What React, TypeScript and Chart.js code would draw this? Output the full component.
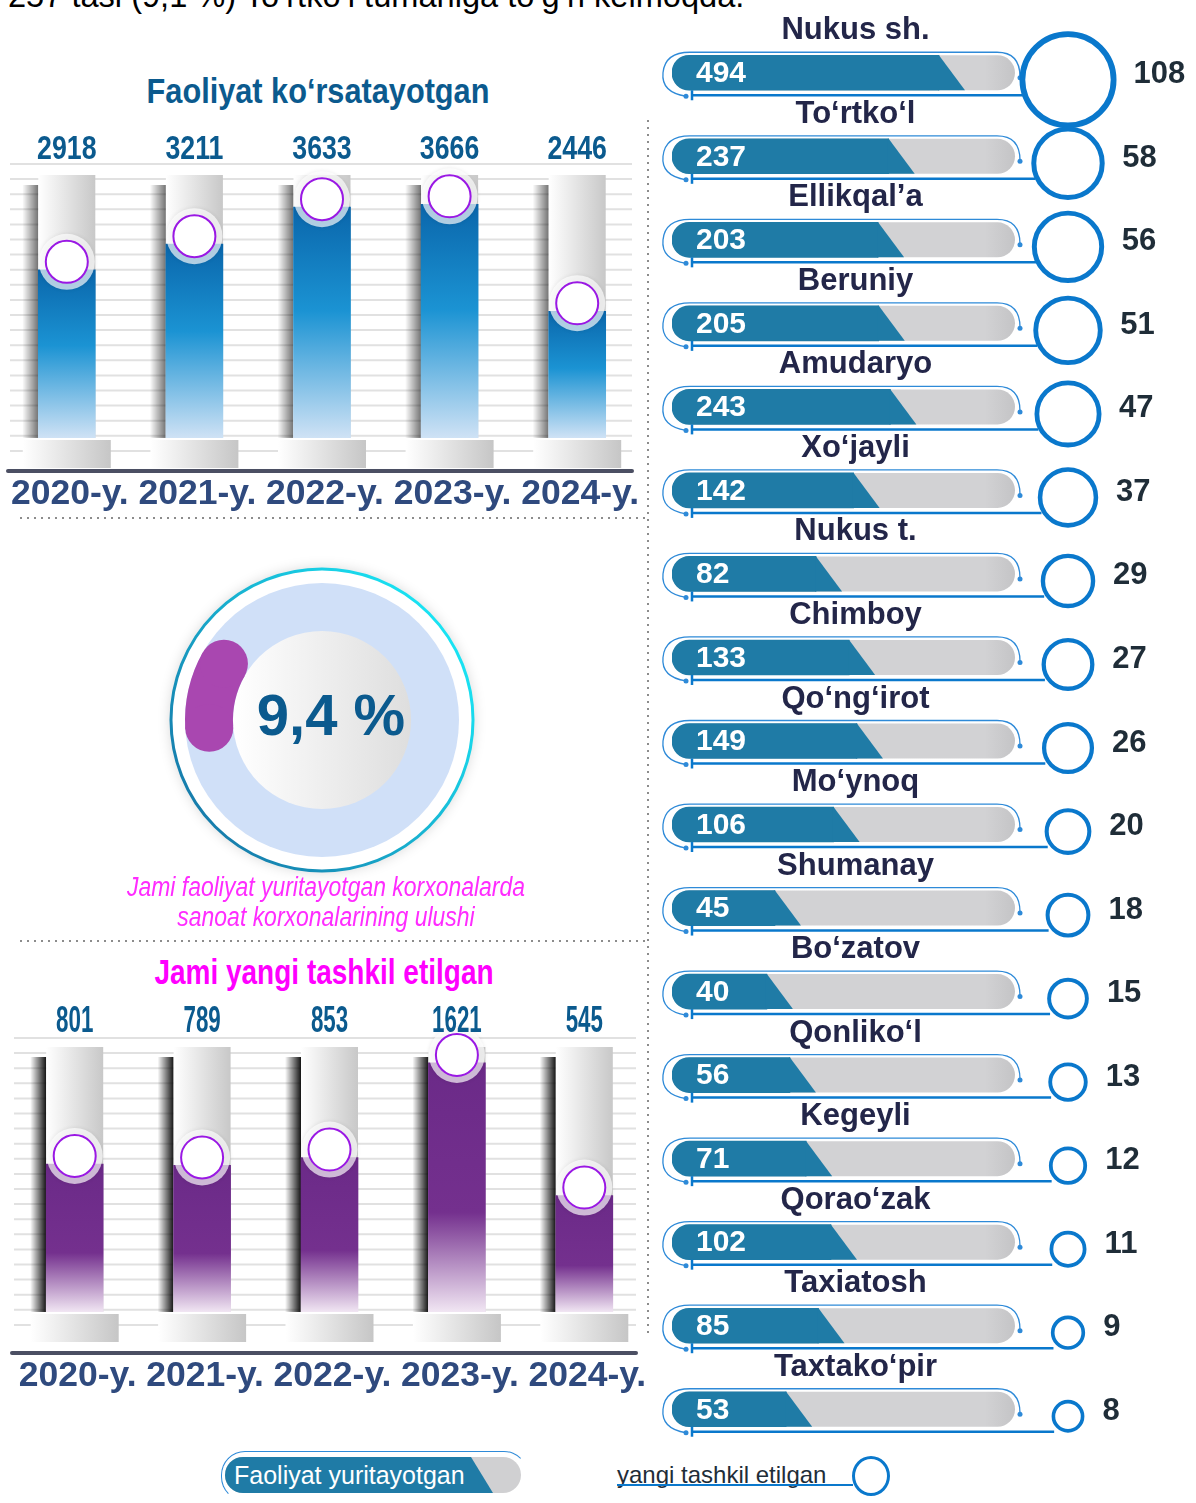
import React, { useEffect, useRef } from "react";
import { Chart, registerables } from "chart.js";
Chart.register(...registerables);

const years = ["2020-y.", "2021-y.", "2022-y.", "2023-y.", "2024-y."];
const activeCounts = [2918, 3211, 3633, 3666, 2446];
const newCounts = [801, 789, 853, 1621, 545];
const industryShare = 9.4;
const districts = ["Nukus sh.", "To‘rtko‘l", "Ellikqal’a", "Beruniy", "Amudaryo", "Xo‘jayli", "Nukus t.", "Chimboy", "Qo‘ng‘irot", "Mo‘ynoq", "Shumanay", "Bo‘zatov", "Qonliko‘l", "Kegeyli", "Qorao‘zak", "Taxiatosh", "Taxtako‘pir"];
const districtActive = [494, 237, 203, 205, 243, 142, 82, 133, 149, 106, 45, 40, 56, 71, 102, 85, 53];
const districtNew = [108, 58, 56, 51, 47, 37, 29, 27, 26, 20, 18, 15, 13, 12, 11, 9, 8];

const SANS = '"Liberation Sans", Arial, sans-serif';

type CylCfg = {
  values: number[]; yMin: number; yMax: number; stops: [number, string][]; shadow: number;
  padTop: number; padBottom: number; padLeft: number; padRight: number; labelOff: number;
  axisOff: number; gridTop: number; gridBottom: number; gridLeft: number; gridRight: number;
  numSize: number; numScale: number; haloTint: string;
};

function narrowText(ctx: CanvasRenderingContext2D, text: string, x: number, y: number, sx: number) {
  ctx.save();
  ctx.translate(x, y);
  ctx.scale(sx, 1);
  ctx.fillText(text, 0, 0);
  ctx.restore();
}

function makeCylinder(canvas: HTMLCanvasElement, cfg: CylCfg) {
  const plugin = {
    id: "cyl",
    beforeDatasetsDraw(chart: any) {
      const { ctx, chartArea: ca } = chart;
      ctx.save();
      ctx.strokeStyle = "#e1e1e1";
      ctx.lineWidth = 2;
      for (let y = ca.top - cfg.gridTop; y <= ca.bottom + cfg.gridBottom; y += 15.1) {
        ctx.beginPath(); ctx.moveTo(cfg.gridLeft, y); ctx.lineTo(cfg.gridRight, y); ctx.stroke();
      }
      const meta = chart.getDatasetMeta(0);
      meta.data.forEach((bar: any) => {
        const { x, width: w } = bar.getProps(["x", "width"], true);
        const l = x - w / 2;
        const sg = ctx.createLinearGradient(l - 16, 0, l, 0);
        sg.addColorStop(0, "rgba(0,0,0,0)");
        sg.addColorStop(1, `rgba(0,0,0,${cfg.shadow})`);
        ctx.fillStyle = sg;
        ctx.fillRect(l - 16, ca.top + 10, 16, ca.bottom - ca.top - 10);
        const tg = ctx.createLinearGradient(l, 0, l + w, 0);
        tg.addColorStop(0, "#ffffff");
        tg.addColorStop(1, "#c8c8c8");
        ctx.fillStyle = tg;
        ctx.fillRect(l, ca.top, w, ca.bottom - ca.top);
        const pw = 88;
        const pg = ctx.createLinearGradient(x - pw / 2, 0, x + pw / 2, 0);
        pg.addColorStop(0, "#ffffff");
        pg.addColorStop(1, "#c6c6c6");
        ctx.fillStyle = pg;
        ctx.fillRect(x - pw / 2, ca.bottom + 2, pw, 28);
      });
      ctx.strokeStyle = "#4b4f63";
      ctx.lineWidth = 4;
      ctx.lineCap = "round";
      ctx.beginPath();
      ctx.moveTo(cfg.gridLeft - 2, ca.bottom + cfg.axisOff);
      ctx.lineTo(cfg.gridRight, ca.bottom + cfg.axisOff);
      ctx.stroke();
      ctx.restore();
    },
    afterDatasetsDraw(chart: any) {
      const { ctx, chartArea: ca } = chart;
      const meta = chart.getDatasetMeta(0);
      const xs = chart.scales.x;
      ctx.save();
      meta.data.forEach((bar: any, i: number) => {
        const { x, y } = bar.getProps(["x", "y"], true);
        const cy = y - 8;
        ctx.shadowColor = "rgba(0,0,0,0.12)";
        ctx.shadowBlur = 4;
        ctx.fillStyle = cfg.haloTint;
        ctx.beginPath(); ctx.arc(x, cy, 28, 0, Math.PI * 2); ctx.fill();
        ctx.shadowColor = "transparent";
        ctx.fillStyle = "#ffffff";
        ctx.beginPath(); ctx.arc(x, cy, 21, 0, Math.PI * 2); ctx.fill();
        ctx.strokeStyle = "#9a18e4";
        ctx.lineWidth = 2;
        ctx.stroke();
        ctx.fillStyle = "#0b5a8e";
        ctx.font = `bold ${cfg.numSize}px ${SANS}`;
        ctx.textAlign = "center";
        ctx.textBaseline = "middle";
        narrowText(ctx, String(cfg.values[i]), x, ca.top - 25, cfg.numScale);
        ctx.fillStyle = "#2f4a7e";
        ctx.font = `bold 35.5px ${SANS}`;
        ctx.fillText(String(xs.getLabelForValue(i)), xs.getPixelForValue(i) + 3, ca.bottom + cfg.labelOff);
      });
      ctx.restore();
    },
  };
  return new Chart(canvas, {
    type: "bar",
    data: {
      labels: years,
      datasets: [
        {
          data: cfg.values, barThickness: 57, base: cfg.yMin,
          backgroundColor: (c: any) => {
            const chart = c.chart;
            const ca = chart.chartArea;
            if (!ca || c.type !== "data") return cfg.stops[0][1];
            const y = chart.scales.y.getPixelForValue(c.raw);
            const g = chart.ctx.createLinearGradient(0, y, 0, ca.bottom);
            cfg.stops.forEach(([o, col]) => g.addColorStop(o, col));
            return g;
          },
        } as any,
      ],
    },
    options: {
      animation: false, responsive: false, events: [],
      layout: { padding: { top: cfg.padTop, bottom: cfg.padBottom, left: cfg.padLeft, right: cfg.padRight } },
      scales: {
        x: { display: false, offset: true },
        y: { display: false, min: cfg.yMin, max: cfg.yMax },
      },
      plugins: { legend: { display: false }, tooltip: { enabled: false } },
    } as any,
    plugins: [plugin],
  });
}

function CylinderCanvas({ cfg, left, top, width, height }: { cfg: CylCfg; left: number; top: number; width: number; height: number }) {
  const ref = useRef<HTMLCanvasElement>(null);
  useEffect(() => {
    const ch = makeCylinder(ref.current!, cfg);
    return () => ch.destroy();
  }, []);
  return <canvas ref={ref} width={width} height={height} style={{ position: "absolute", left, top, width, height }} />;
}

function DonutCanvas() {
  const ref = useRef<HTMLCanvasElement>(null);
  useEffect(() => {
    const plugin = {
      id: "ring",
      beforeDatasetsDraw(chart: any) {
        const { ctx } = chart;
        const arc = chart.getDatasetMeta(0).data[0];
        const cx = arc.x, cy = arc.y, R = arc.outerRadius, r = arc.innerRadius;
        ctx.save();
        ctx.shadowColor = "rgba(0,0,0,0.18)";
        ctx.shadowBlur = 14;
        ctx.fillStyle = "#ffffff";
        ctx.beginPath(); ctx.arc(cx, cy, R + 14, 0, Math.PI * 2); ctx.fill();
        ctx.shadowColor = "transparent";
        const sg = ctx.createLinearGradient(cx - R, cy + R, cx + R, cy - R / 2);
        sg.addColorStop(0, "#1670a3");
        sg.addColorStop(1, "#19e3f3");
        ctx.strokeStyle = sg;
        ctx.lineWidth = 3;
        ctx.beginPath(); ctx.arc(cx, cy, R + 14, 0, Math.PI * 2); ctx.stroke();
        ctx.fillStyle = "#d0e0f8";
        ctx.beginPath(); ctx.arc(cx, cy, R, 0, Math.PI * 2); ctx.fill();
        const ig = ctx.createLinearGradient(cx - r, cy, cx + r, cy);
        ig.addColorStop(0, "#ffffff");
        ig.addColorStop(1, "#dedede");
        ctx.fillStyle = ig;
        ctx.beginPath(); ctx.arc(cx, cy, r, 0, Math.PI * 2); ctx.fill();
        ctx.restore();
      },
      afterDatasetsDraw(chart: any) {
        const { ctx } = chart;
        const arc = chart.getDatasetMeta(0).data[0];
        const { x, y, startAngle, endAngle, innerRadius, outerRadius } = arc.getProps(["x", "y", "startAngle", "endAngle", "innerRadius", "outerRadius"], true);
        const mid = (innerRadius + outerRadius) / 2;
        const capR = (outerRadius - innerRadius) / 2;
        ctx.save();
        ctx.fillStyle = "#a947b0";
        [startAngle, endAngle].forEach((a: number) => {
          ctx.beginPath();
          ctx.arc(x + Math.cos(a) * mid, y + Math.sin(a) * mid, capR, 0, Math.PI * 2);
          ctx.fill();
        });
        ctx.restore();
      },
      afterDraw(chart: any) {
        const { ctx } = chart;
        const arc = chart.getDatasetMeta(0).data[0];
        ctx.save();
        ctx.fillStyle = "#0b5a8e";
        ctx.font = `bold 58px ${SANS}`;
        ctx.textAlign = "center";
        ctx.textBaseline = "middle";
        ctx.fillText(`${String(industryShare).replace(".", ",")} %`, arc.x + 9, arc.y - 1);
        ctx.restore();
      },
    };
    const ch = new Chart(ref.current!, {
      type: "doughnut",
      data: {
        labels: ["Sanoat korxonalari", "Boshqa"],
        datasets: [{
          data: [industryShare, 100 - industryShare],
          backgroundColor: ["#a947b0", "rgba(0,0,0,0)"],
          borderWidth: 0,
        } as any],
      },
      options: {
        animation: false, responsive: false, events: [],
        rotation: 266, cutout: "65%",
        layout: { padding: 28 },
        plugins: { legend: { display: false }, tooltip: { enabled: false } },
      } as any,
      plugins: [plugin],
    });
    return () => ch.destroy();
  }, []);
  return <canvas ref={ref} width={330} height={330} style={{ position: "absolute", left: 157, top: 555, width: 330, height: 330 }} />;
}

function DistrictCanvas() {
  const ref = useRef<HTMLCanvasElement>(null);
  useEffect(() => {
    const H = 35;
    const radiusOf = (v: number) => 3 + 4.1 * Math.sqrt(v);
    const plugin = {
      id: "rows",
      beforeDatasetsDraw(chart: any) {
        const { ctx, chartArea: ca, scales } = chart;
        ctx.save();
        districts.forEach((_, i) => {
          const y = scales.y.getPixelForValue(i);
          const top = y - H / 2, bot = y + H / 2;
          const tg = ctx.createLinearGradient(ca.right - 30, 0, ca.right, 0);
          tg.addColorStop(0, "#d2d2d4");
          tg.addColorStop(1, "#c4c4c6");
          ctx.fillStyle = tg;
          ctx.beginPath(); ctx.roundRect(ca.left, top, ca.right - ca.left, H, H / 2); ctx.fill();
          ctx.strokeStyle = "#2e8ad8";
          ctx.lineWidth = 1.3;
          ctx.beginPath();
          ctx.moveTo(ca.left + 14, bot + 6);
          ctx.quadraticCurveTo(ca.left - 11, bot + 2, ca.left - 9, y);
          ctx.quadraticCurveTo(ca.left - 7, top - 3, ca.left + 18, top - 3);
          ctx.lineTo(ca.right - 18, top - 3);
          ctx.quadraticCurveTo(ca.right + 5, top - 3, ca.right + 5, y + 4);
          ctx.stroke();
          ctx.fillStyle = "#2e8ad8";
          ctx.beginPath(); ctx.arc(ca.right + 5, y + 5, 2.5, 0, Math.PI * 2); ctx.fill();
          ctx.beginPath(); ctx.arc(ca.left + 14, bot + 6, 2.5, 0, Math.PI * 2); ctx.fill();
        });
        ctx.restore();
      },
      afterDatasetsDraw(chart: any) {
        const { ctx, chartArea: ca } = chart;
        const meta = chart.getDatasetMeta(0);
        ctx.save();
        meta.data.forEach((bar: any, i: number) => {
          const { x, y, height } = bar.getProps(["x", "y", "height"], true);
          const top = y - height / 2, bot = y + height / 2;
          ctx.fillStyle = "#1f7ba6";
          ctx.beginPath();
          ctx.moveTo(x - 1, top); ctx.lineTo(x, top); ctx.lineTo(x + 26, bot); ctx.lineTo(x - 1, bot);
          ctx.closePath(); ctx.fill();
          ctx.fillStyle = "#ffffff";
          ctx.font = `bold 30px ${SANS}`;
          ctx.textAlign = "left";
          ctx.textBaseline = "middle";
          ctx.fillText(String(districtActive[i]), ca.left + 24, y + 1);
          ctx.fillStyle = "#232649";
          ctx.font = `bold 31px ${SANS}`;
          ctx.textAlign = "center";
          ctx.fillText(districts[i], (ca.left + ca.right) / 2 + 12, y - 42);
          const r = radiusOf(districtNew[i]);
          const cx = ca.right + 53, cy = y + 7;
          ctx.strokeStyle = "#0a78cc";
          ctx.lineWidth = 2.6 + r * 0.07;
          ctx.beginPath(); ctx.arc(cx, cy, r, 0, Math.PI * 2); ctx.stroke();
          ctx.lineWidth = 2.5;
          ctx.beginPath(); ctx.moveTo(ca.left + 20, bot + 5); ctx.lineTo(cx - r * 0.95, bot + 5); ctx.stroke();
          ctx.beginPath(); ctx.moveTo(ca.left + 20, bot); ctx.lineTo(ca.left + 20, bot + 10); ctx.stroke();
          ctx.fillStyle = "#1f2d38";
          ctx.font = `bold 31px ${SANS}`;
          ctx.textAlign = "left";
          ctx.fillText(String(districtNew[i]), cx + r + 20, y + 2);
        });
        ctx.restore();
      },
    };
    const ch = new Chart(ref.current!, {
      type: "bar",
      data: {
        labels: districts,
        datasets: [{
          data: districtActive,
          backgroundColor: "#1f7ba6",
          barThickness: H,
          borderSkipped: false,
          borderRadius: { topLeft: H / 2, bottomLeft: H / 2, topRight: 0, bottomRight: 0 },
        } as any],
      },
      options: {
        indexAxis: "y", animation: false, responsive: false, events: [],
        layout: { padding: { left: 22, right: 181, top: 31, bottom: 1 } },
        scales: {
          x: { type: "logarithmic", min: 10, max: 1500, display: false },
          y: { display: false, offset: true },
        },
        plugins: { legend: { display: false }, tooltip: { enabled: false } },
      } as any,
      plugins: [plugin],
    });
    return () => ch.destroy();
  }, []);
  return <canvas ref={ref} width={546} height={1452} style={{ position: "absolute", left: 650, top: 0, width: 546, height: 1452 }} />;
}

function Txt({ x, y, size, color, bold, italic, sx, children }: any) {
  const w = 700;
  return (
    <div style={{
      position: "absolute", left: x - w / 2, top: y - size * 0.59, width: w,
      textAlign: "center", fontSize: size, lineHeight: `${size * 1.2}px`, color,
      fontWeight: bold ? "bold" : "normal", fontStyle: italic ? "italic" : "normal",
      fontFamily: SANS, whiteSpace: "nowrap", transform: `scaleX(${sx || 1})`, transformOrigin: "50% 50%",
    }}>{children}</div>
  );
}

const dotH = "repeating-linear-gradient(to right, #8c8c8c 0 2px, transparent 2px 7px)";
const dotV = "repeating-linear-gradient(to bottom, #8c8c8c 0 2px, transparent 2px 7px)";

export default function App() {
  const topCfg: CylCfg = {
    values: activeCounts, yMin: 1000, yMax: 4000,
    stops: [[0, "#0a66ab"], [0.45, "#1b93d3"], [1, "#cfe2f5"]], shadow: 0.55,
    padTop: 55, padBottom: 82, padLeft: 3, padRight: 7, labelOff: 56, axisOff: 33,
    gridTop: 11, gridBottom: 16, gridLeft: 10, gridRight: 632,
    numSize: 33, numScale: 0.81, haloTint: "rgba(255,255,255,0.68)",
  };
  const botCfg: CylCfg = {
    values: newCounts, yMin: -400, yMax: 1750,
    stops: [[0, "#6b2a88"], [0.6, "#74308e"], [1, "#f1e6f3"]], shadow: 0.92,
    padTop: 57, padBottom: 88, padLeft: 11, padRight: 0, labelOff: 64, axisOff: 41,
    gridTop: 9, gridBottom: 14, gridLeft: 14, gridRight: 636,
    numSize: 36, numScale: 0.62, haloTint: "rgba(255,255,255,0.68)",
  };
  return (
    <div style={{ position: "absolute", left: 0, top: 0, width: 1196, height: 1503, overflow: "hidden", background: "#ffffff" }}>
      <div style={{ position: "absolute", left: 8, top: -23, fontSize: 32.6, lineHeight: "37px", fontFamily: SANS, color: "#000", whiteSpace: "nowrap" }}>
        257 tasi (9,1 %) To‘rtko‘l tumaniga to‘g‘ri kelmoqda.
      </div>
      <Txt x={318} y={91} size={35} color="#0b5a8e" bold sx={0.877}>Faoliyat ko‘rsatayotgan</Txt>
      <CylinderCanvas cfg={topCfg} left={0} top={120} width={648} height={400} />
      <div style={{ position: "absolute", left: 20, top: 517, width: 628, height: 2, background: dotH }} />
      <div style={{ position: "absolute", left: 20, top: 940, width: 628, height: 2, background: dotH }} />
      <div style={{ position: "absolute", left: 647, top: 120, width: 2, height: 1215, background: dotV }} />
      <DonutCanvas />
      <Txt x={326} y={887} size={27} color="#ff2cff" italic sx={0.85}>Jami faoliyat yuritayotgan korxonalarda</Txt>
      <Txt x={326} y={917} size={27} color="#ff2cff" italic sx={0.85}>sanoat korxonalarining ulushi</Txt>
      <Txt x={324} y={972} size={35} color="#ff00ff" bold sx={0.8}>Jami yangi tashkil etilgan</Txt>
      <CylinderCanvas cfg={botCfg} left={0} top={990} width={648} height={410} />
      <DistrictCanvas />
      <div style={{ position: "absolute", left: 221, top: 1451, width: 305, height: 48, border: "1.3px solid #2e8ad8", borderRadius: 24, borderBottomColor: "transparent", borderRightColor: "transparent" }} />
      <div style={{ position: "absolute", left: 225, top: 1457, width: 296, height: 36, borderRadius: 18, overflow: "hidden", background: "#d0d0d2" }}>
        <div style={{ position: "absolute", left: 0, top: 0, width: 296, height: 36, background: "#1f7ba6", clipPath: "polygon(0 0, 246px 0, 268px 100%, 0 100%)" }} />
        <div style={{ position: "absolute", left: 9, top: 0, height: 36, lineHeight: "36px", fontSize: 25, color: "#ffffff", fontFamily: SANS, whiteSpace: "nowrap" }}>Faoliyat yuritayotgan</div>
      </div>
      <div style={{ position: "absolute", left: 617, top: 1460, lineHeight: "30px", fontSize: 24, color: "#1f2d38", fontFamily: SANS, whiteSpace: "nowrap" }}>yangi tashkil etilgan</div>
      <div style={{ position: "absolute", left: 617, top: 1484, width: 236, height: 2, background: "#0a78cc" }} />
      <div style={{ position: "absolute", left: 852, top: 1456, width: 32, height: 34, border: "3px solid #0a78cc", borderRadius: "50%" }} />
    </div>
  );
}
